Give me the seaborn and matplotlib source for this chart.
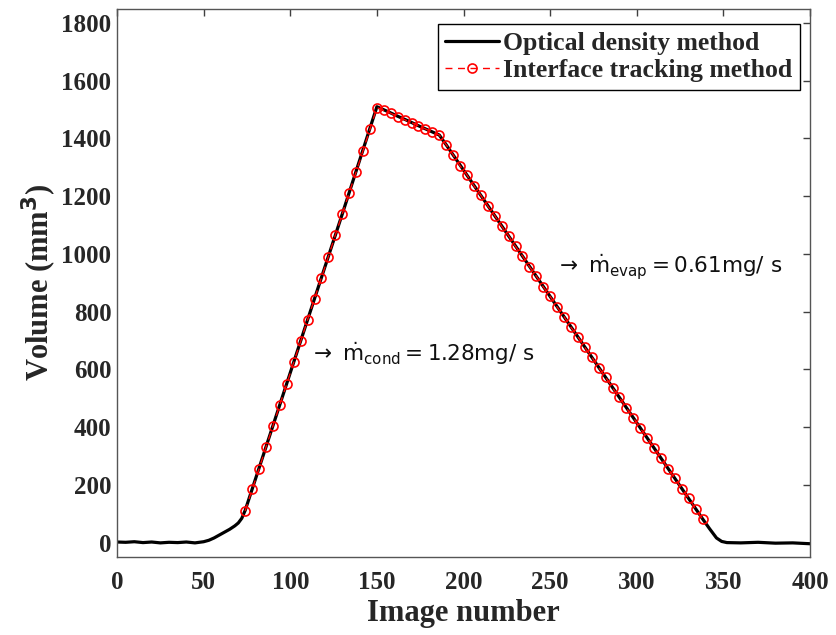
import matplotlib
matplotlib.use("Agg")
import matplotlib.pyplot as plt
import seaborn as sns
import pandas as pd

# Optical density method: volume trace (mm^3) against image number
od_image = [0, 5, 10, 15, 20, 25, 30, 35, 40, 45, 50, 53, 56, 59, 62, 65, 68,
            70, 72, 74, 90, 110, 130, 150, 156, 162, 168, 174, 180, 186, 190,
            220, 260, 300, 338, 342, 346, 349, 352, 360, 370, 380, 390, 400]
od_volume = [2, 1, 3, 0, 2, -1, 1, 0, 2, -1, 3, 8, 16, 26, 36, 46, 58,
             68, 84, 112, 405, 772, 1138, 1510, 1494, 1477, 1461, 1444, 1428, 1412, 1378,
             1115, 765, 415, 82, 48, 16, 4, 0, -1, 1, -2, -1, -4]

# Interface tracking method: sampled every fourth image
it_image = list(range(74, 339, 4))
it_volume = [110, 184, 256, 331, 404, 478, 550, 625, 697, 772, 845, 918, 991, 1065,
             1138, 1212, 1284, 1358, 1432, 1507,
             1497, 1487, 1476, 1465, 1455, 1444, 1433, 1423, 1412,
             1378, 1343, 1305, 1273, 1236, 1203, 1166, 1133, 1096, 1063, 1026, 993,
             956, 923, 886, 853, 816, 783, 746, 713, 676, 643, 606, 573, 536, 503,
             466, 433, 396, 363, 326, 293, 256, 223, 186, 153, 116, 81]

x_ticks = [0, 50, 100, 150, 200, 250, 300, 350, 400]
y_ticks = [0, 200, 400, 600, 800, 1000, 1200, 1400, 1600, 1800]

sns.set_style("white")
plt.rcParams["font.family"] = ["Liberation Serif", "DejaVu Serif"]
plt.rcParams["mathtext.fontset"] = "dejavusans"

fig = plt.figure(figsize=(8.37, 6.35), dpi=100)
ax = fig.add_axes([0.1398, 0.1228, 0.828, 0.8637])

od = pd.DataFrame({"image": od_image, "volume": od_volume})
it = pd.DataFrame({"image": it_image, "volume": it_volume})

sns.lineplot(data=od, x="image", y="volume", ax=ax, color="black", linewidth=2.3,
             label="Optical density method", sort=False)
sns.lineplot(data=it, x="image", y="volume", ax=ax, color="red", linewidth=1.0,
             linestyle=(0, (5, 4)), marker="o", markersize=6.5,
             markerfacecolor="none", markeredgecolor="red", markeredgewidth=1.2,
             label="Interface tracking method", sort=False)

ax.set_xlim(0, 400)
ax.set_ylim(-50, 1850)
ax.set_xticks(x_ticks)
ax.set_yticks(y_ticks)
ax.tick_params(direction="in", length=5, width=1, color="#404040",
               top=True, right=True, labelsize=18, pad=4)
ax.tick_params(axis="x", pad=10)
for lab in ax.get_xticklabels() + ax.get_yticklabels():
    lab.set_fontweight("bold")
for sp in ax.spines.values():
    sp.set_color("#555555")
    sp.set_linewidth(1.0)

ax.set_xlabel("Image number", fontsize=22, fontweight="bold", labelpad=4)
ax.set_ylabel("Volume (mm$^\\mathbf{3}$)", fontsize=22, fontweight="bold", labelpad=2)

leg = ax.legend(loc="upper right", bbox_to_anchor=(0.9856, 0.972), fancybox=False,
                frameon=True, edgecolor="black", framealpha=1,
                prop={"family": "Liberation Serif", "weight": "bold", "size": 18.5},
                handlelength=2.1, handletextpad=0.15, borderpad=0.3,
                labelspacing=0.18, borderaxespad=0)
leg.get_frame().set_linewidth(1.0)

ax.text(111, 654, r"$\rightarrow\ \dot{\mathrm{m}}_{\mathrm{cond}} = 1.28\mathrm{mg/\ s}$",
        fontsize=15.5, color="#111111", va="center", ha="left")
ax.text(253, 955, r"$\rightarrow\ \dot{\mathrm{m}}_{\mathrm{evap}} = 0.61\mathrm{mg/\ s}$",
        fontsize=15.5, color="#111111", va="center", ha="left")

fig.savefig("out.png", dpi=100)
